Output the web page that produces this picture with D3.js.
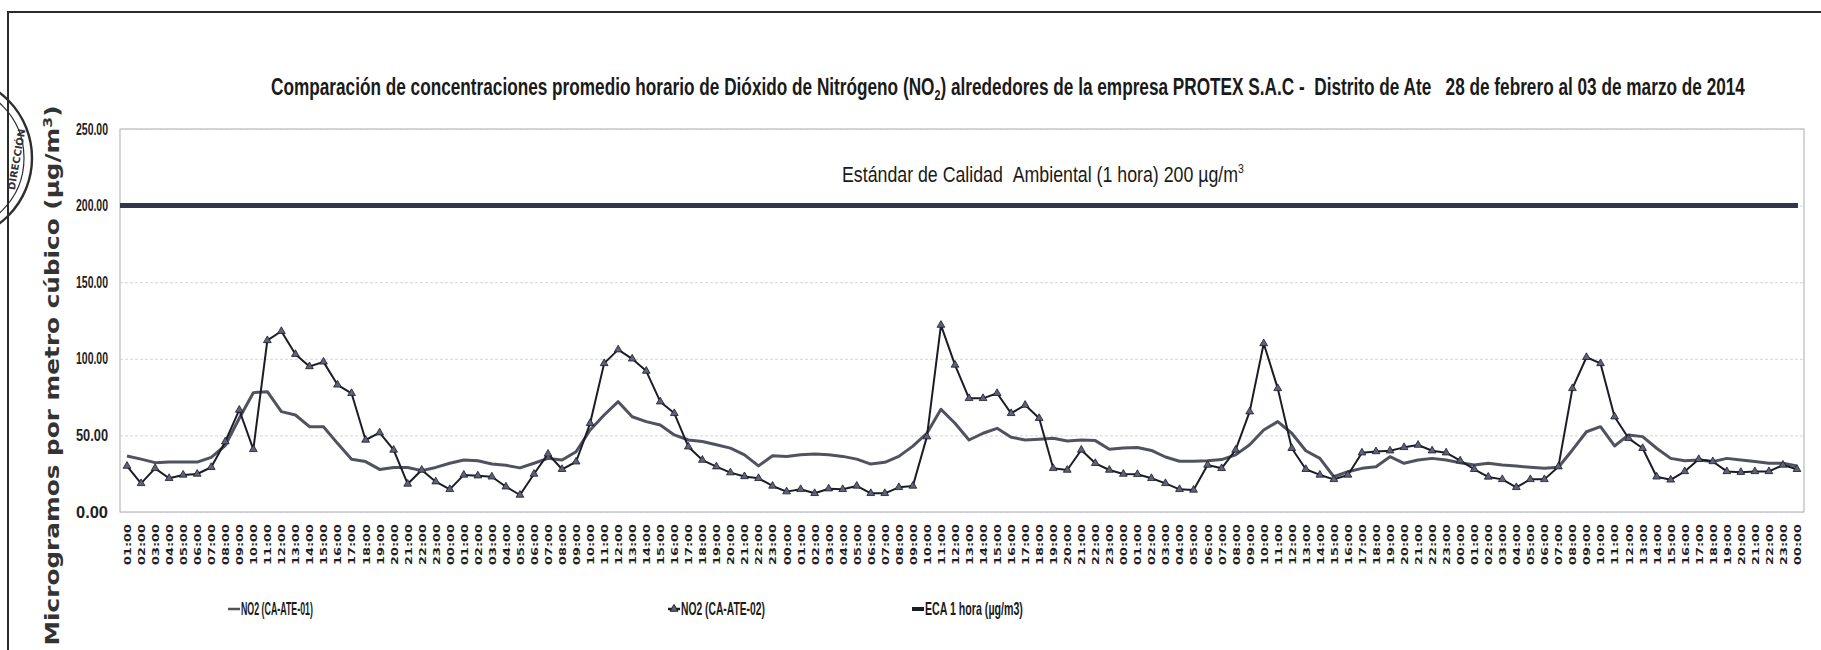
<!DOCTYPE html>
<html>
<head>
<meta charset="utf-8">
<script src="https://cdn.jsdelivr.net/npm/d3@7"></script>
<style>
  html, body { margin: 0; background: #fff; }
  svg { display: block; }
</style>
</head>
<body>
<script>
// hourly categories, 28 feb 01:00 -> 04 mar 00:00
const hourLabels = ["01:00","02:00","03:00","04:00","05:00","06:00","07:00","08:00","09:00","10:00","11:00","12:00",
                    "13:00","14:00","15:00","16:00","17:00","18:00","19:00","20:00","21:00","22:00","23:00","00:00"];
const days = ["28/02", "01/03", "02/03", "03/03", "04/03"];

// NO2 (CA-ATE-01), ug/m3
const no2Ate01 = [
  36.6, 34.5, 32.2, 32.6, 32.6, 32.6, 35.7, 43.4, 61.2, 77.9, 78.5, 65.5, 63.3, 55.7, 55.7, 44.8, 34.4, 32.9, 27.8, 29.1, 29.1, 27.0, 29.1, 31.8,
  33.9, 33.5, 31.3, 30.5, 28.8, 31.8, 35.0, 33.9, 39.3, 53.5, 63.3, 72.0, 62.2, 59.0, 56.8, 50.3, 47.0, 46.0, 43.9, 41.7, 37.3, 30.1, 36.7, 36.3,
  37.3, 37.9, 37.3, 36.3, 34.5, 31.3, 32.4, 36.3, 43.0, 51.4, 67.0, 57.9, 47.0, 51.4, 54.6, 48.8, 47.0, 47.5, 48.1, 46.4, 47.0, 46.6, 41.0, 41.7,
  42.1, 40.2, 35.9, 33.1, 33.1, 33.5, 34.2, 37.3, 43.9, 53.5, 59.0, 51.4, 40.0, 35.0, 23.0, 26.3, 28.5, 29.6, 36.1, 31.8, 33.9, 35.0, 33.9, 32.2,
  30.7, 31.8, 30.7, 30.0, 29.2, 28.5, 29.2, 40.5, 52.4, 55.7, 43.1, 50.3, 49.2, 41.6, 35.0, 33.5, 33.9, 32.9, 35.0, 33.9, 32.9, 31.8, 31.8, 30.0
];
// NO2 (CA-ATE-02), ug/m3
const no2Ate02 = [
  30.0, 18.7, 28.5, 22.0, 24.2, 24.8, 29.2, 45.9, 66.6, 40.9, 112, 118, 103, 95.0, 98.0, 83.0, 77.5, 47.0, 51.8, 40.5, 18.3, 27.4, 19.8, 14.8,
  24.2, 23.7, 23.0, 16.5, 11.1, 24.8, 37.9, 27.9, 32.8, 57.9, 97.0, 106, 100, 92.0, 72.0, 64.4, 42.6, 33.9, 29.6, 25.7, 23.2, 22.0, 17.0, 13.3,
  14.8, 12.2, 15.2, 14.8, 17.0, 12.2, 12.2, 16.1, 17.0, 49.2, 122, 96.0, 74.2, 74.2, 77.5, 64.4, 69.8, 61.2, 28.5, 27.4, 40.5, 31.8, 27.4, 24.8,
  24.6, 22.0, 18.7, 14.8, 14.4, 30.7, 28.5, 40.5, 65.5, 110, 80.7, 41.6, 27.9, 24.2, 21.3, 24.2, 38.7, 39.5, 40.0, 42.2, 43.7, 40.0, 38.7, 33.5,
  27.9, 22.9, 21.3, 16.1, 21.3, 21.3, 29.6, 80.7, 101, 97.0, 62.2, 48.1, 41.6, 23.0, 21.0, 26.5, 34.4, 33.0, 26.5, 26.0, 26.5, 26.5, 30.7, 27.9
];
const ecaLimit = 200;
const yTicks = [0, 50, 100, 150, 200, 250];
const legendNames = ["NO2 (CA-ATE-01)", "NO2 (CA-ATE-02)", "ECA 1 hora (\u00b5g/m3)"];

const categories = days.flatMap(() => hourLabels);

const width = 1821, height = 650;
const plot = {left: 120, right: 1804, top: 129, bottom: 512};
const narrow = "'Liberation Sans Narrow', 'Liberation Sans', Arial, sans-serif";
const wide = "'DejaVu Sans', Verdana, sans-serif";

const svg = d3.select("body").append("svg")
    .attr("width", width)
    .attr("height", height)
    .style("background", "#fff");

// squeeze a text group horizontally so it spans w pixels (the scan uses a condensed face)
function squeeze(g, x0, y0, w) {
  const bw = g.node().getBBox().width;
  g.attr("transform", `translate(${x0},${y0}) scale(${w / bw},1)`);
}

const x = d3.scalePoint()
    .domain(d3.range(categories.length))
    .range([plot.left, plot.right])
    .padding(0.5);

const y = d3.scaleLinear()
    .domain([0, 250])
    .range([plot.bottom, plot.top]);

// page frame (scanned report border)
svg.append("path")
    .attr("d", `M8,${height}V12H${width}`)
    .attr("fill", "none")
    .attr("stroke", "#2b2b2b")
    .attr("stroke-width", 2);

// stamp cut by the left margin
const seal = svg.append("g").attr("fill", "none").attr("stroke", "#2e2e2e");
seal.append("circle").attr("cx", -50).attr("cy", 158).attr("r", 82).attr("stroke-width", 2.4);
seal.append("circle").attr("cx", -50).attr("cy", 158).attr("r", 74).attr("stroke-width", 1.2);
svg.append("text")
    .attr("transform", "translate(20,160) rotate(-80)")
    .attr("text-anchor", "middle")
    .attr("font-family", wide)
    .attr("font-size", 10)
    .attr("font-weight", "bold")
    .attr("fill", "#333")
    .text("DIRECCIÓN");

// title
const titleG = svg.append("g");
const title = titleG.append("text")
    .attr("font-family", narrow)
    .attr("font-weight", "bold")
    .attr("font-size", 24)
    .attr("fill", "#1a1a1a");
title.append("tspan").text("Comparación de concentraciones promedio horario de Dióxido de Nitrógeno (NO");
title.append("tspan").attr("font-size", 15).attr("dy", 5).text("2");
title.append("tspan").attr("dy", -5).text(")\u00a0alrededores de la empresa PROTEX S.A.C -\u00a0 Distrito de Ate \u00a0 28 de febrero al 03 de marzo de 2014");
squeeze(titleG, 271, 95, 1475);

// plot frame
svg.append("rect")
    .attr("x", plot.left)
    .attr("y", plot.top)
    .attr("width", plot.right - plot.left)
    .attr("height", plot.bottom - plot.top)
    .attr("fill", "none")
    .attr("stroke", "#a9abb8")
    .attr("stroke-width", 1);

// grid + y axis
const yAxis = svg.append("g")
    .attr("transform", `translate(${plot.left},0)`)
    .call(d3.axisLeft(y).tickValues(yTicks).tickFormat(d3.format(".2f")).tickSize(-(plot.right - plot.left)).tickPadding(12));
yAxis.select(".domain").remove();
yAxis.selectAll(".tick line")
    .attr("stroke", "#c9cad2")
    .attr("stroke-dasharray", "3,2")
    .attr("stroke-width", 0.8);
yAxis.selectAll(".tick text")
    .attr("font-family", narrow)
    .attr("font-weight", "bold")
    .attr("font-size", 16)
    .attr("textLength", 32)
    .attr("lengthAdjust", "spacingAndGlyphs")
    .attr("fill", "#222");

// x axis, rotated hour labels
const xAxis = svg.append("g")
    .attr("transform", `translate(0,${plot.bottom})`)
    .call(d3.axisBottom(x).tickFormat(i => categories[i]).tickSize(0));
xAxis.select(".domain").remove();
xAxis.selectAll(".tick text")
    .attr("transform", "rotate(-90)")
    .attr("text-anchor", "end")
    .attr("x", -12)
    .attr("y", 0)
    .attr("dy", "0.36em")
    .attr("font-family", wide)
    .attr("font-weight", "bold")
    .attr("font-size", 9.5)
    .attr("textLength", 41)
    .attr("lengthAdjust", "spacingAndGlyphs")
    .attr("fill", "#1e1e1e");

// y axis title
const yTitleG = svg.append("g");
yTitleG.append("text")
    .attr("text-anchor", "middle")
    .attr("font-family", wide)
    .attr("font-weight", "bold")
    .attr("font-size", 19)
    .attr("fill", "#333")
    .attr("textLength", 540)
    .attr("lengthAdjust", "spacingAndGlyphs")
    .call(t => {
      t.append("tspan").text("Microgramos por metro cúbico (\u00b5g/m");
      t.append("tspan").attr("font-size", 12).attr("dy", -7).text("3");
      t.append("tspan").attr("dy", 7).text(")");
    });
yTitleG.attr("transform", `translate(59,${(105 + 646) / 2}) rotate(-90)`);

// ECA standard line
svg.append("line")
    .attr("x1", plot.left)
    .attr("x2", x(categories.length - 1) + 1)
    .attr("y1", y(ecaLimit))
    .attr("y2", y(ecaLimit))
    .attr("stroke", "#33364a")
    .attr("stroke-width", 5);

const ecaG = svg.append("g");
const eca = ecaG.append("text")
    .attr("font-family", narrow)
    .attr("font-size", 22)
    .attr("fill", "#1a1a1a");
eca.append("tspan").text("Estándar de Calidad \u00a0Ambiental (1 hora) 200 \u00b5g/m");
eca.append("tspan").attr("font-size", 13).attr("dy", -9).text("3");
squeeze(ecaG, 842, 182, 402);

const line = d3.line()
    .x((d, i) => x(i))
    .y(d => y(d));

// CA-ATE-01
svg.append("path")
    .datum(no2Ate01)
    .attr("d", line)
    .attr("fill", "none")
    .attr("stroke", "#50525f")
    .attr("stroke-width", 3)
    .attr("stroke-linejoin", "round");

// CA-ATE-02 with triangles
svg.append("path")
    .datum(no2Ate02)
    .attr("d", line)
    .attr("fill", "none")
    .attr("stroke", "#1c1c26")
    .attr("stroke-width", 2)
    .attr("stroke-linejoin", "round");

const tri = d3.symbol(d3.symbolTriangle, 26);
svg.append("g")
  .selectAll("path")
  .data(no2Ate02)
  .join("path")
    .attr("transform", (d, i) => `translate(${x(i)},${y(d)})`)
    .attr("d", tri)
    .attr("fill", "#5d6278")
    .attr("stroke", "#1c1c26")
    .attr("stroke-width", 0.8);

// legend
const legendX = [228, 668, 912];
const legendW = [72, 84, 98];
legendNames.forEach((name, k) => {
  const g = svg.append("g").attr("transform", `translate(${legendX[k]},609)`);
  g.append("line")
      .attr("x1", 0).attr("x2", 12)
      .attr("stroke", k === 0 ? "#50525f" : "#1c1c26")
      .attr("stroke-width", k === 2 ? 4 : 2.5);
  if (k === 1) g.append("path").attr("transform", "translate(6,0)").attr("d", tri).attr("fill", "#5d6278").attr("stroke", "#1c1c26");
  const tg = g.append("g");
  tg.append("text")
      .attr("dy", "0.35em")
      .attr("font-family", narrow)
      .attr("font-weight", "bold")
      .attr("font-size", 18)
      .attr("fill", "#1a1a1a")
      .text(name);
  squeeze(tg, 13, 0, legendW[k]);
});
</script>
</body>
</html>
